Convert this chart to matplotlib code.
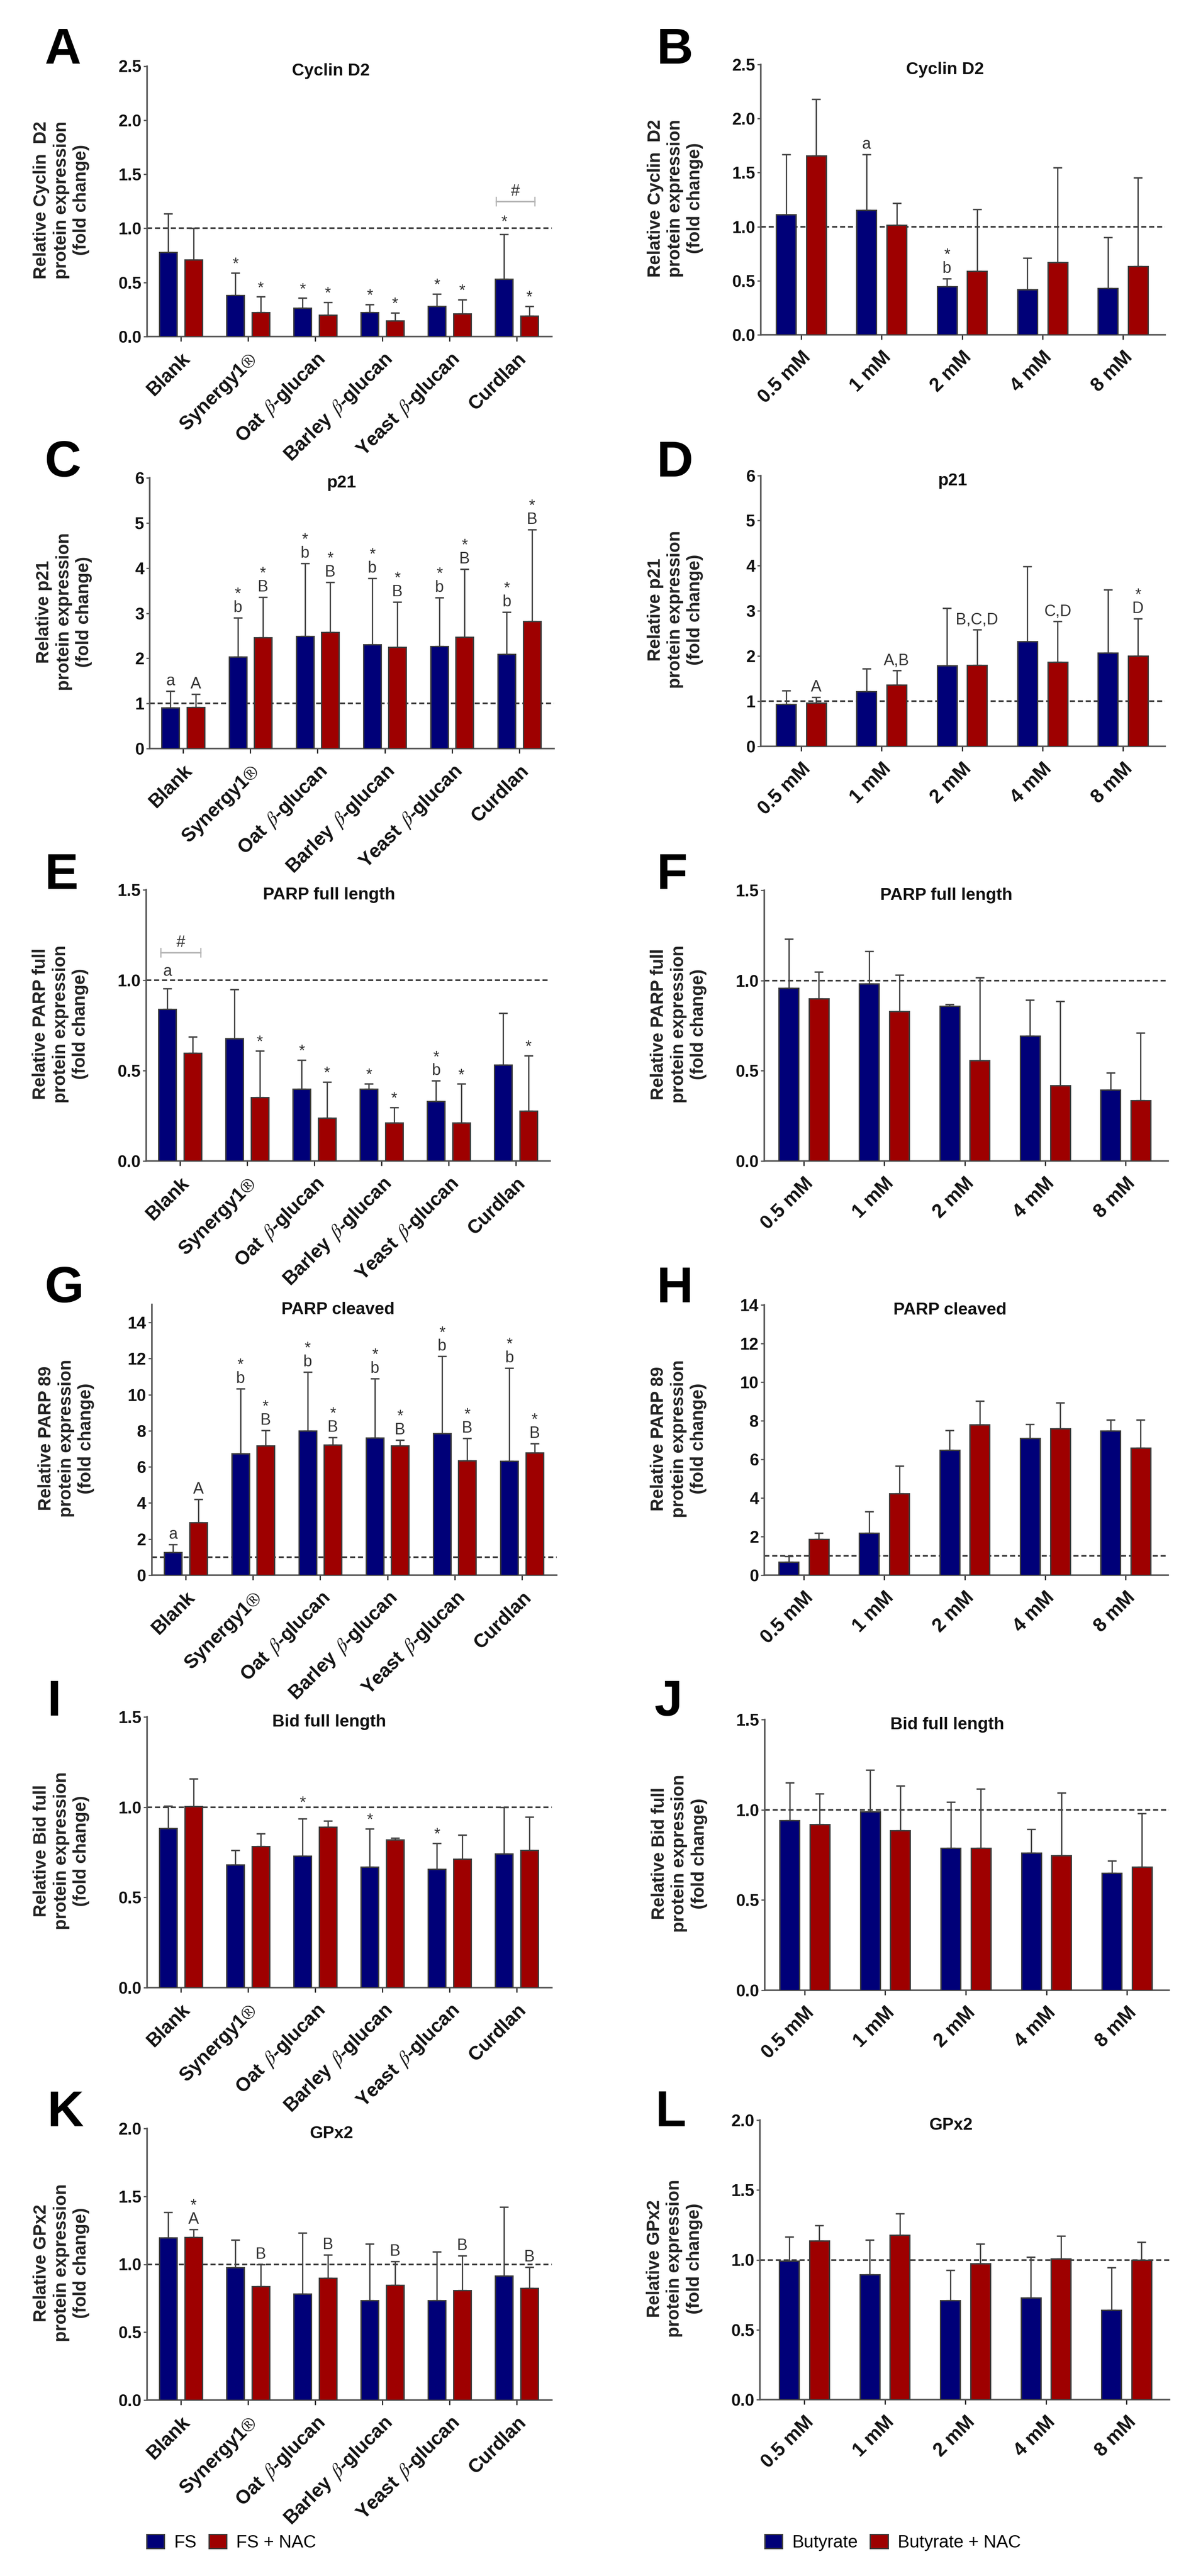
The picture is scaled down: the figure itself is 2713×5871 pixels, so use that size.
# Western blot bar panels A-L

import numpy as np
import matplotlib
matplotlib.use('Agg')
import matplotlib.pyplot as plt

plt.rcParams['font.family'] = ['Liberation Sans', 'DejaVu Sans']
plt.rcParams['mathtext.fontset'] = 'stix'

W, H = 2713, 5871
PX = 0.72      # pixels to points at dpi 100

AZUL = '#000078'
VERMELHO = '#9e0000'
BORDA = '#3c3c3c'
EIXO = '#555555'

grupos_fs = ['Blank', r'Synergy1$\circledR$', r'Oat $\,\beta$-glucan', r'Barley $\,\beta$-glucan',
             r'Yeast $\,\beta$-glucan', 'Curdlan']
grupos_but = ['0.5 mM', '1 mM', '2 mM', '4 mM', '8 mM']

# Valores: barra e topo da barra de erro
# Nos textos: letra + asterisco empilhados; cada ^ sobe o texto um pouco

a_azul = [0.78, 0.38, 0.264, 0.222, 0.28, 0.533]
a_verm = [0.71, 0.222, 0.197, 0.147, 0.212, 0.19]
a_azul_top = [1.136, 0.587, 0.355, 0.295, 0.393, 0.945]
a_verm_top = [1.0, 0.367, 0.318, 0.22, 0.342, 0.28]
a_azul_txt = ['', '*', '*', '*', '*', '^*']
a_verm_txt = ['', '*', '*', '*', '*', '*']

b_azul = [1.113, 1.152, 0.448, 0.417, 0.43]
b_verm = [1.656, 1.014, 0.587, 0.668, 0.634]
b_azul_top = [1.669, 1.667, 0.52, 0.709, 0.903]
b_verm_top = [2.18, 1.219, 1.162, 1.548, 1.452]
b_azul_txt = ['', 'a', 'b*', '', '']
b_verm_txt = ['', '', '', '', '']

c_azul = [0.90, 2.035, 2.494, 2.308, 2.264, 2.09]
c_verm = [0.918, 2.457, 2.58, 2.246, 2.47, 2.816]
c_azul_top = [1.278, 2.897, 4.10, 3.77, 3.35, 3.02]
c_verm_top = [1.21, 3.356, 3.685, 3.244, 3.98, 4.85]
c_azul_txt = ['a', 'b*', 'b*', 'b*', 'b*', 'b*']
c_verm_txt = ['A', 'B*', 'B*', 'B*', 'B*', 'B*']

d_azul = [0.936, 1.215, 1.79, 2.325, 2.07]
d_verm = [0.96, 1.358, 1.80, 1.866, 2.0]
d_azul_top = [1.234, 1.72, 3.06, 3.98, 3.465]
d_verm_top = [1.085, 1.68, 2.58, 2.765, 2.83]
d_azul_txt = ['', '', '', '', '']
d_verm_txt = ['A', 'A,B', 'B,C,D', 'C,D', 'D*']

e_azul = [0.839, 0.676, 0.398, 0.398, 0.33, 0.532]
e_verm = [0.596, 0.351, 0.238, 0.21, 0.212, 0.276]
e_azul_top = [0.953, 0.949, 0.559, 0.427, 0.443, 0.819]
e_verm_top = [0.686, 0.61, 0.437, 0.296, 0.426, 0.582]
e_azul_txt = ['^^a', '', '*', '*', 'b*', '']
e_verm_txt = ['', '*', '*', '*', '*', '*']

f_azul = [0.959, 0.982, 0.857, 0.693, 0.395]
f_verm = [0.90, 0.83, 0.556, 0.418, 0.336]
f_azul_top = [1.23, 1.162, 0.868, 0.893, 0.488]
f_verm_top = [1.048, 1.03, 1.017, 0.886, 0.711]

g_azul = [1.27, 6.73, 7.99, 7.6, 7.86, 6.32]
g_verm = [2.92, 7.18, 7.21, 7.16, 6.35, 6.79]
g_azul_top = [1.71, 10.33, 11.25, 10.9, 12.12, 11.48]
g_verm_top = [4.21, 8.02, 7.64, 7.49, 7.58, 7.30]
g_azul_txt = ['a', 'b*', 'b*', 'b*', 'b*', 'b*']
g_verm_txt = ['A', 'B*', 'B*', 'B*', 'B*', 'B*']

h_azul = [0.68, 2.19, 6.48, 7.1, 7.48]
h_verm = [1.855, 4.23, 7.8, 7.58, 6.58]
h_azul_top = [0.97, 3.30, 7.49, 7.81, 8.04]
h_verm_top = [2.19, 5.65, 9.03, 8.93, 8.04]

i_azul = [0.883, 0.68, 0.73, 0.669, 0.657, 0.741]
i_verm = [1.003, 0.784, 0.889, 0.82, 0.713, 0.762]
i_azul_top = [1.007, 0.761, 0.936, 0.88, 0.801, 1.0]
i_verm_top = [1.157, 0.854, 0.924, 0.83, 0.846, 0.945]
i_azul_txt = ['', '', '^^*', '*', '*', '']
i_verm_txt = ['', '', '', '', '', '']

j_azul = [0.942, 0.99, 0.788, 0.76, 0.65]
j_verm = [0.92, 0.884, 0.788, 0.746, 0.683]
j_azul_top = [1.149, 1.22, 1.044, 0.892, 0.717]
j_verm_top = [1.089, 1.132, 1.117, 1.095, 0.979]

k_azul = [1.197, 0.975, 0.781, 0.732, 0.732, 0.914]
k_verm = [1.2, 0.836, 0.897, 0.848, 0.808, 0.823]
k_azul_top = [1.384, 1.18, 1.23, 1.149, 1.093, 1.422]
k_verm_top = [1.257, 0.998, 1.071, 1.02, 1.063, 0.978]
k_azul_txt = ['', '', '', '', '', '']
k_verm_txt = ['A*', 'B', 'B', 'B', 'B', 'B']

l_azul = [0.993, 0.894, 0.709, 0.728, 0.64]
l_verm = [1.138, 1.178, 0.974, 1.007, 0.998]
l_azul_top = [1.166, 1.143, 0.927, 1.021, 0.944]
l_verm_top = [1.246, 1.332, 1.115, 1.171, 1.127]

vazio = ['', '', '', '', '']

fig = plt.figure(figsize=(W / 100, H / 100), dpi=100)


def fig_x(x):
    return x / W


def fig_y(y):
    return 1 - y / H


def texto_barra(ax, x, topo, txt):
    # letra logo acima da barra de erro, asterisco por cima
    if txt == '':
        return
    sobe = 8 * txt.count('^')
    txt = txt.replace('^', '')
    letra = txt.replace('*', '')
    if letra:
        ax.annotate(letra, (x, topo), xytext=(0, (13 + sobe) * PX), textcoords='offset points',
                    ha='center', va='baseline', fontsize=26, color='#333333')
    if '*' in txt:
        dy = 43 if letra else 9
        ax.annotate('*', (x, topo), xytext=(0, (dy + sobe) * PX), textcoords='offset points',
                    ha='center', va='baseline', fontsize=26, color='#333333')


def painel(letra, letra_x, letra_y, caixa, ticks_px, ymax, yticks, titulo, titulo_px, ylabel,
           grupos, azul, verm, azul_top, verm_top, azul_txt, verm_txt):
    esq, dir_, cima, baixo = caixa
    ax = fig.add_axes([fig_x(esq), fig_y(baixo), (dir_ - esq) / W, (baixo - cima) / H])
    n = len(grupos)
    passo = (ticks_px[1] - ticks_px[0]) / (n - 1)
    largura = 40 / passo if n == 6 else 45 / passo
    pos = np.arange(n)
    ax.axhline(1, color='#333333', lw=2.6, dashes=(3.2, 1.8), zorder=1)
    for desl, val, top, cor, txts in [(-0.187, azul, azul_top, AZUL, azul_txt),
                                      (0.187, verm, verm_top, VERMELHO, verm_txt)]:
        val = np.array(val)
        top = np.array(top)
        ax.errorbar(pos + desl, val, yerr=[np.zeros(n), top - val], fmt='none', ecolor='#444444',
                    elinewidth=2.2, capsize=7, capthick=2.4, zorder=2)
        ax.bar(pos + desl, val, largura, color=cor, edgecolor=BORDA, linewidth=2.2, zorder=3)
        for i in range(n):
            texto_barra(ax, pos[i] + desl, top[i], txts[i])
    ax.set_xlim((esq - ticks_px[0]) / passo, (dir_ - ticks_px[0]) / passo)
    ax.set_ylim(0, ymax)
    ax.set_yticks(yticks)
    if ymax <= 2.5:
        ax.set_yticklabels(['%.1f' % t for t in yticks])
    else:
        ax.set_yticklabels(['%d' % t for t in yticks])
    ax.set_xticks(pos)
    ax.set_xticklabels(grupos, rotation=45, ha='right', va='top', rotation_mode='anchor')
    for s in ['top', 'right']:
        ax.spines[s].set_visible(False)
    for s in ['left', 'bottom']:
        ax.spines[s].set_color(EIXO)
        ax.spines[s].set_linewidth(2.6)
    ax.tick_params(axis='y', length=6, width=2, color=EIXO, pad=3)
    ax.tick_params(axis='x', length=8, width=2, color='#222222', pad=14)
    for t in ax.get_yticklabels():
        t.set_fontsize(27.5)
    for t in ax.get_xticklabels():
        t.set_fontsize(31.5)
    for t in ax.get_xticklabels() + ax.get_yticklabels():
        t.set_fontweight('bold')
        t.set_color('#111111')
    ax.patch.set_alpha(0)
    fig.text(fig_x(titulo_px), fig_y(cima + 12), titulo, ha='center', va='center',
             fontsize=28, fontweight='bold', color='#111111')
    fig.text(fig_x(esq - 195), fig_y((cima + baixo) / 2 - 3), ylabel, rotation=90, ha='center', va='center',
             multialignment='center', fontsize=29, fontweight='bold', color='#222222', linespacing=1.25)
    fig.text(fig_x(letra_x), fig_y(letra_y + 41), letra, ha='left', va='baseline',
             fontsize=83, fontweight='bold', color='black')
    return ax


def colchete(ax, x0, x1, y):
    ax.plot([x0, x1], [y, y], color='#b4b4b4', lw=2.4, marker='|', markersize=16, markeredgewidth=2, zorder=4)
    ax.annotate('#', ((x0 + x1) / 2, y), xytext=(0, 13 * PX), textcoords='offset points',
                ha='center', va='baseline', fontsize=26, color='#333333')


ESQ = 101
DIR = 1495
t25 = [0, 0.5, 1.0, 1.5, 2.0, 2.5]
t6 = [0, 1, 2, 3, 4, 5, 6]
t15 = [0, 0.5, 1.0, 1.5]
t14 = [0, 2, 4, 6, 8, 10, 12, 14]
t2 = [0, 0.5, 1.0, 1.5, 2.0]

ax_a = painel('A', ESQ, 104, (335, 1257, 150.5, 767), (412, 1177), 2.5, t25, 'Cyclin D2', 754,
              'Relative Cyclin  D2\nprotein expression\n(fold change)',
              grupos_fs, a_azul, a_verm, a_azul_top, a_verm_top, a_azul_txt, a_verm_txt)
colchete(ax_a, 4.69, 5.27, 1.25)
painel('B', DIR, 104, (1733, 2654, 147, 763), (1825, 2558), 2.5, t25, 'Cyclin D2', 2153,
       'Relative Cyclin  D2\nprotein expression\n(fold change)',
       grupos_but, b_azul, b_verm, b_azul_top, b_verm_top, b_azul_txt, b_verm_txt)
painel('C', ESQ, 1045, (341, 1262, 1089, 1706), (417, 1183), 6, t6, 'p21', 778,
       'Relative p21\nprotein expression\n(fold change)',
       grupos_fs, c_azul, c_verm, c_azul_top, c_verm_top, c_azul_txt, c_verm_txt)
painel('D', DIR, 1045, (1733, 2654, 1083.5, 1701), (1825, 2558), 6, t6, 'p21', 2170,
       'Relative p21\nprotein expression\n(fold change)',
       grupos_but, d_azul, d_verm, d_azul_top, d_verm_top, d_azul_txt, d_verm_txt)
ax_e = painel('E', ESQ, 1985, (333, 1253, 2028, 2646), (410, 1175), 1.5, t15, 'PARP full length', 750,
              'Relative PARP full\nprotein expression\n(fold change)',
              grupos_fs, e_azul, e_verm, e_azul_top, e_verm_top, e_azul_txt, e_verm_txt)
colchete(ax_e, -0.29, 0.31, 1.152)
painel('F', DIR, 1985, (1741, 2661, 2029, 2646), (1831, 2564), 1.5, t15, 'PARP full length', 2156,
       'Relative PARP full\nprotein expression\n(fold change)',
       grupos_but, f_azul, f_verm, f_azul_top, f_verm_top, vazio, vazio)
painel('G', ESQ, 2927, (345.5, 1268, 2973, 3590), (423, 1189), 15, t14, 'PARP cleaved', 770,
       'Relative PARP 89\nprotein expression\n(fold change)',
       grupos_fs, g_azul, g_verm, g_azul_top, g_verm_top, g_azul_txt, g_verm_txt)
painel('H', DIR, 2927, (1741, 2661, 2974, 3590), (1831, 2564), 14, t14, 'PARP cleaved', 2164,
       'Relative PARP 89\nprotein expression\n(fold change)',
       grupos_but, h_azul, h_verm, h_azul_top, h_verm_top, vazio, vazio)
painel('I', 107, 3869, (335, 1257, 3913, 4530), (412, 1177), 1.5, t15, 'Bid full length', 750,
       'Relative Bid full\nprotein expression\n(fold change)',
       grupos_fs, i_azul, i_verm, i_azul_top, i_verm_top, i_azul_txt, i_verm_txt)
painel('J', 1490, 3869, (1742.5, 2663, 3919, 4536), (1833, 2567), 1.5, t15, 'Bid full length', 2158,
       'Relative Bid full\nprotein expression\n(fold change)',
       grupos_but, j_azul, j_verm, j_azul_top, j_verm_top, vazio, vazio)
painel('K', 107, 4805, (335, 1257, 4851, 5470), (412, 1177), 2.0, t2, 'GPx2', 755,
       'Relative GPx2\nprotein expression\n(fold change)',
       grupos_fs, k_azul, k_verm, k_azul_top, k_verm_top, k_azul_txt, k_verm_txt)
painel('L', 1492, 4805, (1731, 2664, 4832, 5469), (1832, 2566), 2.0, t2, 'GPx2', 2166,
       'Relative GPx2\nprotein expression\n(fold change)',
       grupos_but, l_azul, l_verm, l_azul_top, l_verm_top, vazio, vazio)

# Legendas

for x_leg, nomes in [(334, ['FS', 'FS + NAC']), (1742, ['Butyrate', 'Butyrate + NAC'])]:
    alcas = [plt.Rectangle((0, 0), 1, 1, facecolor=c, edgecolor=BORDA, linewidth=2.2) for c in [AZUL, VERMELHO]]
    fig.legend(alcas, nomes, ncols=2, loc='center left', bbox_to_anchor=(fig_x(x_leg), fig_y(5795)),
               frameon=False, borderpad=0, borderaxespad=0, handlelength=1.0, handleheight=0.85,
               handletextpad=0.55, columnspacing=0.7, prop={'size': 29})

plt.savefig('out.png', dpi=100)
